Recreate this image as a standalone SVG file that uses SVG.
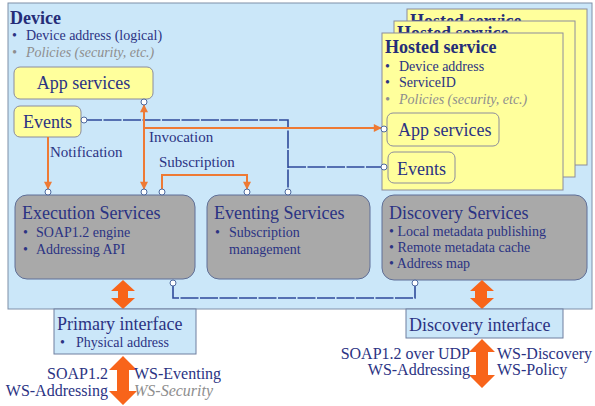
<svg xmlns="http://www.w3.org/2000/svg" width="595" height="406" viewBox="0 0 595 406">
<defs>
<style>
text{font-family:"Liberation Serif","Times New Roman",serif;fill:#2B3383}
.t18{font-size:18px}
.b18{font-size:18px;font-weight:bold;fill:#252D78}
.t14{font-size:14px}
.t15{font-size:15px}
.t16{font-size:16px}
.gi{fill:#8E8E8E;font-style:italic}
.dev{fill:#CBE7F9;stroke:#7F8FA8;stroke-width:1}
.yel{fill:#FFFF9C;stroke:#8C8C9C;stroke-width:1}
.gray{fill:#A9A9A9;stroke:#5F6F98;stroke-width:1}
.ifc{fill:#CBE7F9;stroke:#6F7F9F;stroke-width:1}
.port{fill:#FFFFFF;stroke:#4F6A9F;stroke-width:1}
.ol{fill:none;stroke:#EE7A35;stroke-width:2}
.bl{fill:none;stroke:#2F4A9A;stroke-width:1.6;stroke-dasharray:18 1.5}
.big{fill:#F8641A}
</style>
<marker id="ah" viewBox="0 0 10 10" refX="9" refY="5" markerWidth="4.5" markerHeight="4" orient="auto-start-reverse">
<path d="M0,0 L10,5 L0,10 z" fill="#EE7A35"/>
</marker>
<clipPath id="c2"><rect x="400" y="0" width="195" height="21"/></clipPath>
<clipPath id="c1"><rect x="390" y="0" width="195" height="33"/></clipPath>
</defs>

<g id="device">
<rect class="dev" x="8" y="3" width="584" height="306"/>
<text class="b18" x="10" y="24">Device</text>
<text class="t14" x="12" y="40">•</text>
<text class="t14" x="26" y="40">Device address (logical)</text>
<text class="t14 gi" x="12" y="57">•</text>
<text class="t14 gi" x="26" y="57">Policies (security, etc.)</text>
</g>

<g id="app-services">
<rect class="yel" x="14" y="67" width="139" height="32" rx="6"/>
<text class="t18" x="83.5" y="89" text-anchor="middle">App services</text>
</g>

<g id="events">
<rect class="yel" x="14" y="106" width="67" height="31" rx="6"/>
<text class="t18" x="23" y="128">Events</text>
</g>

<g id="hosted-service-back2">
<rect class="yel" x="407" y="9" width="180" height="156"/>
<text class="b18" x="410" y="27" clip-path="url(#c2)">Hosted service</text>
</g>
<g id="hosted-service-back1">
<rect class="yel" x="394" y="21" width="181" height="156"/>
<text class="b18" x="397" y="39" clip-path="url(#c1)">Hosted service</text>
</g>
<g id="hosted-service">
<rect class="yel" x="382" y="33" width="181" height="157"/>
<text class="b18" x="385" y="53">Hosted service</text>
<text class="t14" x="385" y="71">•</text>
<text class="t14" x="399" y="71">Device address</text>
<text class="t14" x="385" y="87">•</text>
<text class="t14" x="399" y="87">ServiceID</text>
<text class="t14 gi" x="385" y="104">•</text>
<text class="t14 gi" x="399" y="104">Policies (security, etc.)</text>
</g>

<g id="hosted-app-services">
<rect class="yel" x="387" y="113" width="112" height="33" rx="6"/>
<text class="t18" x="398" y="136">App services</text>
</g>
<g id="hosted-events">
<rect class="yel" x="388" y="152" width="67" height="31" rx="6"/>
<text class="t18" x="397" y="175">Events</text>
</g>

<g id="execution-services">
<rect class="gray" x="15" y="195" width="180" height="84" rx="12"/>
<text class="t18" x="22" y="219">Execution Services</text>
<text class="t14" x="23" y="237">•</text>
<text class="t14" x="36" y="237">SOAP1.2 engine</text>
<text class="t14" x="23" y="254">•</text>
<text class="t14" x="36" y="254">Addressing API</text>
</g>

<g id="eventing-services">
<rect class="gray" x="207" y="195" width="163" height="84" rx="12"/>
<text class="t18" x="214" y="219">Eventing Services</text>
<text class="t14" x="215" y="237">•</text>
<text class="t14" x="229" y="237">Subscription</text>
<text class="t14" x="229" y="254">management</text>
</g>

<g id="discovery-services">
<rect class="gray" x="382" y="195" width="205" height="85" rx="12"/>
<text class="t18" x="389" y="219">Discovery Services</text>
<text class="t14" x="389" y="236">• Local metadata publishing</text>
<text class="t14" x="389" y="252">• Remote metadata cache</text>
<text class="t14" x="389" y="268">• Address map</text>
</g>

<g id="connectors">
<path class="bl" d="M84,120 H288 V189"/>
<path class="bl" d="M288,167 H381"/>
<path class="bl" d="M173,286 V298 H415 V286"/>
<path class="ol" d="M48,137 V189" marker-end="url(#ah)"/>
<path class="ol" d="M144,105 V189" marker-start="url(#ah)" marker-end="url(#ah)"/>
<path class="ol" d="M144,128 H381" marker-end="url(#ah)"/>
<path class="ol" d="M162,189 V175 H247 V189" marker-end="url(#ah)"/>
<circle class="port" cx="144" cy="102" r="3"/>
<circle class="port" cx="84" cy="120" r="3"/>
<circle class="port" cx="48" cy="192" r="3"/>
<circle class="port" cx="144" cy="192" r="3"/>
<circle class="port" cx="162" cy="192" r="3"/>
<circle class="port" cx="247" cy="192" r="3"/>
<circle class="port" cx="288" cy="192" r="3"/>
<circle class="port" cx="384" cy="129" r="3"/>
<circle class="port" cx="384" cy="167" r="3"/>
<circle class="port" cx="173" cy="283" r="3"/>
<circle class="port" cx="415" cy="283" r="3"/>
<polygon class="big" points="123,280 135,291 128,291 128,298 135,298 123,309 111,298 118,298 118,291 111,291"/>
<polygon class="big" points="482,280 494,291 487,291 487,298 494,298 482,309 470,298 475,298 475,291 470,291"/>
<polygon class="big" points="123,356 137,370 129,370 129,391 137,391 123,405 109,391 117,391 117,370 109,370"/>
<polygon class="big" points="482,339 495,352 488,352 488,375 495,375 482,388 469,375 476,375 476,352 469,352"/>
</g>

<g id="labels">
<text class="t15" x="149" y="142">Invocation</text>
<text class="t15" x="50" y="157">Notification</text>
<text class="t15" x="159" y="167">Subscription</text>
</g>

<g id="primary-interface">
<rect class="ifc" x="54" y="309" width="142" height="45"/>
<text class="t18" x="57" y="330">Primary interface</text>
<text class="t14" x="60" y="347">•</text>
<text class="t14" x="76" y="347">Physical address</text>
</g>

<g id="discovery-interface">
<rect class="ifc" x="406" y="309" width="157" height="29"/>
<text class="t18" x="409" y="331">Discovery interface</text>
</g>

<g id="protocol-labels">
<text class="t16" x="108" y="379" text-anchor="end">SOAP1.2</text>
<text class="t16" x="108" y="396" text-anchor="end">WS-Addressing</text>
<text class="t16" x="134" y="379">WS-Eventing</text>
<text class="t16 gi" x="134" y="396">WS-Security</text>
<text class="t16" x="470" y="359" text-anchor="end">SOAP1.2 over UDP</text>
<text class="t16" x="470" y="375" text-anchor="end">WS-Addressing</text>
<text class="t16" x="497" y="359">WS-Discovery</text>
<text class="t16" x="497" y="375">WS-Policy</text>
</g>
</svg>
